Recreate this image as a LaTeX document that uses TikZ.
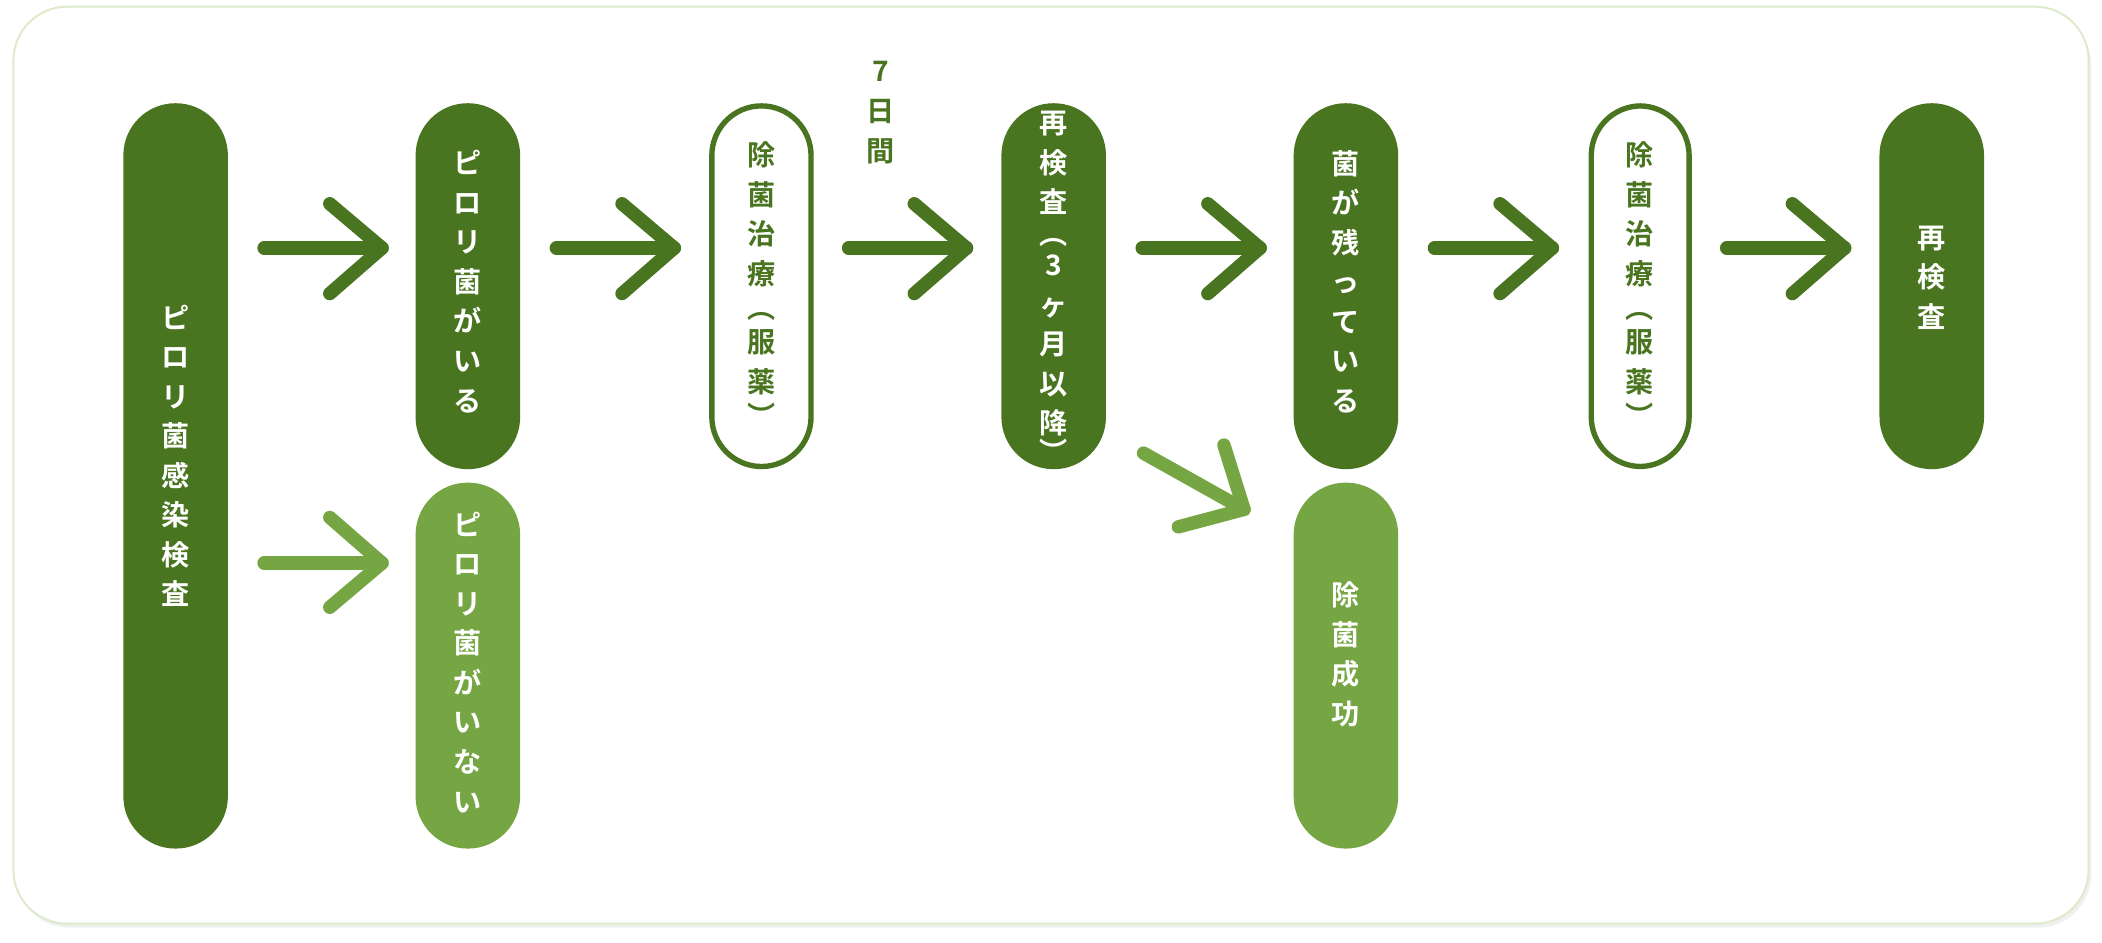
\documentclass[tikz,border=0pt]{standalone}
\usepackage{fontspec}
\newfontfamily\jp{Noto Sans CJK JP Bold}
\definecolor{dk}{HTML}{4A7520}
\definecolor{lt}{HTML}{76A643}
\definecolor{bd}{HTML}{DDEBCB}
\begin{document}
\begin{tikzpicture}[x=1pt,y=-1pt,
  vt/.style={text=white, font=\jp\fontsize{21}{29.5}\selectfont, align=center, inner sep=0pt},
  ar/.style={line width=10pt, line cap=round, line join=round},
]
\useasboundingbox (0,0) rectangle (1568,703);
\fill[black!6, rounded corners=40pt] (12,9) rectangle (1560,692);
\draw[bd, line width=1.5pt, fill=white, rounded corners=40pt] (10,5) rectangle (1558,689);
% pills
\fill[dk, rounded corners=38.9pt] (92,77) rectangle (170,633);
\node[vt] (a) at (131,340) {ピ\\ロ\\リ\\菌\\感\\染\\検\\査};
\fill[dk, rounded corners=38.9pt] (310,77) rectangle (388,350);
\node[vt] (b) at (349,210) {ピ\\ロ\\リ\\菌\\が\\い\\る};
\fill[lt, rounded corners=38.9pt] (310,360) rectangle (388,633);
\node[vt] (c) at (349,494) {ピ\\ロ\\リ\\菌\\が\\い\\な\\い};
\draw[dk, line width=4pt, fill=white, rounded corners=37pt] (531,79) rectangle (605,348);
\node[vt, text=dk] (d) at (568,212) {除\\菌\\治\\療\\[-4pt]︵\\[-4pt]服\\薬\\[-4pt]︶};
\node[vt, text=dk] (t) at (657,84) {7\\日\\間};
\fill[dk, rounded corners=38.9pt] (747,77) rectangle (825,350);
\node[vt] (e) at (786,214) {再\\検\\査\\[-6pt]︵\\[-6pt]3\\ヶ\\月\\以\\降\\[-8pt]︶};
\fill[dk, rounded corners=38.9pt] (965,77) rectangle (1043,350);
\node[vt] (f) at (1004,210) {菌\\が\\残\\っ\\て\\い\\る};
\fill[lt, rounded corners=38.9pt] (965,360) rectangle (1043,633);
\node[vt] (g) at (1004,488) {除\\菌\\成\\功};
\draw[dk, line width=4pt, fill=white, rounded corners=37pt] (1187,79) rectangle (1260,348);
\node[vt, text=dk] (h) at (1223,212) {除\\菌\\治\\療\\[-4pt]︵\\[-4pt]服\\薬\\[-4pt]︶};
\fill[dk, rounded corners=38.9pt] (1402,77) rectangle (1480,350);
\node[vt] (i) at (1441,207) {再\\検\\査};
% arrows
\foreach \x in {197,415,633,852,1070,1288}{
  \draw[ar, dk] (\x,185) -- (\x+88,185);
  \draw[ar, dk] (\x+49,152) -- (\x+88,185) -- (\x+49,219);
}
\draw[ar, lt] (197,420) -- (285,420);
\draw[ar, lt] (246,386) -- (285,420) -- (246,453);
\draw[ar, lt] (853,338) -- (928,380);
\draw[ar, lt] (913,332) -- (928,380) -- (879,393);
\end{tikzpicture}
\end{document}
